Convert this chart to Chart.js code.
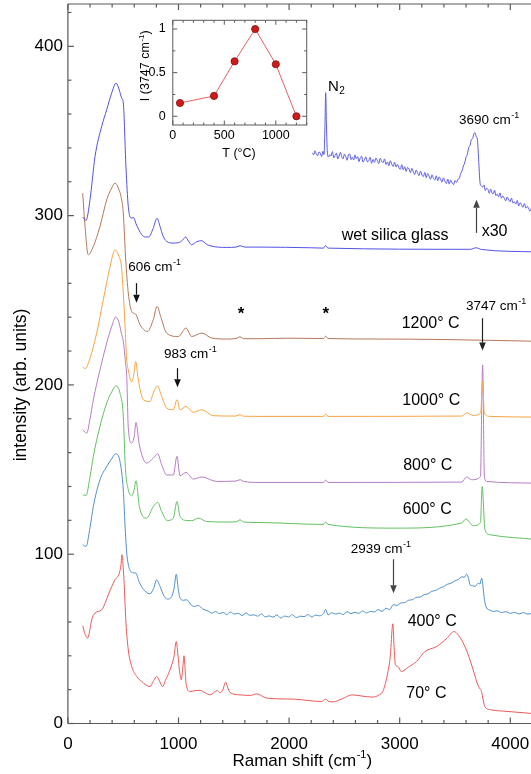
<!DOCTYPE html>
<html>
<head>
<meta charset="utf-8">
<title>Raman spectra of heated silica</title>
<script src="https://cdn.jsdelivr.net/npm/chart.js@4.4.1/dist/chart.umd.min.js"></script>
<style>
  html, body { margin: 0; padding: 0; background: #fff; overflow: hidden; }
  #wrap { position: relative; width: 531px; height: 774px; overflow: hidden; }
  #mainChart { position: absolute; left: 0; top: 0; }
  #insetChart { position: absolute; left: 130px; top: 10px; }
</style>
</head>
<body>
<div id="wrap">
  <canvas id="mainChart" width="536" height="774"></canvas>
  <canvas id="insetChart" width="182" height="160"></canvas>
</div>
<script>
// --- Data: [Raman shift (cm-1), intensity (arb. units)] ---
const wetGlass = [
  [134, 299.1], [164, 297.2], [200, 309.4], [245, 334.8], [306, 352.8], [351, 362.6], [396, 372.4],
  [435, 378.3], [462, 374.8], [486, 369.5], [501, 366.5], [525, 328.8], [546, 305.4], [571, 298.6],
  [595, 298.8], [616, 295.2], [667, 288.8], [700, 287.4], [730, 287.4], [770, 292.3], [806, 298.4],
  [833, 293.6], [860, 288], [893, 284.8], [950, 283.8], [998, 284], [1035, 285.4], [1065, 287.4],
  [1090, 285], [1119, 282.8], [1165, 284.6], [1210, 285.2], [1250, 283.2], [1285, 282.2], [1436, 281.2],
  [1520, 281.4], [1556, 282.2], [1600, 281.4], [1737, 281.4], [2200, 281], [2310, 280.8], [2331, 282.3],
  [2352, 280.8], [3640, 280.1], [3690, 281], [3740, 280], [4220, 278.6],
]

const wetGlassX30 = [
  [2210, 337.1], [2222, 335.9], [2234, 338.3], [2246, 336.2], [2258, 335.4], [2270, 337.6], [2282, 336.9],
  [2294, 334.9], [2306, 338], [2316, 336.1], [2324, 352], [2331, 372.6], [2338, 353], [2346, 337.5],
  [2356, 334.6], [2368, 336], [2380, 335.2], [2392, 337.8], [2404, 334.1], [2416, 335.6], [2428, 336.9],
  [2440, 333.5], [2452, 335.2], [2464, 337.4], [2476, 334.8], [2488, 333.6], [2500, 336.3], [2512, 335],
  [2524, 332.7], [2536, 335.8], [2548, 336.4], [2560, 333.1], [2572, 334.5], [2584, 332.9], [2596, 335.9],
  [2608, 333.6], [2620, 334.8], [2632, 331.9], [2644, 334.2], [2656, 335.1], [2668, 331.6], [2681, 333],
  [2694, 334.7], [2707, 331.8], [2720, 332.4], [2733, 334.5], [2746, 330.9], [2759, 333.2], [2772, 331.5],
  [2785, 334], [2798, 332.6], [2811, 330.7], [2824, 333.9], [2837, 332], [2850, 331.3], [2863, 333.5],
  [2876, 330.2], [2889, 331.7], [2902, 329.5], [2915, 332.4], [2928, 330.5], [2941, 329], [2954, 331.6],
  [2967, 328.7], [2980, 330.4], [2993, 328.2], [3006, 327.4], [3019, 330.1], [3032, 327], [3045, 328.9],
  [3058, 326.1], [3071, 328.4], [3084, 327.6], [3097, 325.4], [3110, 327.9], [3123, 325.9], [3136, 324.3],
  [3149, 326.8], [3162, 325.2], [3175, 323.6], [3188, 326.3], [3201, 324], [3214, 323.1], [3227, 325.5],
  [3240, 322.4], [3253, 324.9], [3266, 323.3], [3279, 321.5], [3292, 324.1], [3305, 322], [3318, 321.1],
  [3331, 323.5], [3344, 320.6], [3357, 322.9], [3370, 321.4], [3383, 319.8], [3396, 322.3], [3409, 320.2],
  [3422, 319], [3435, 321.6], [3448, 318.6], [3461, 320.9], [3474, 319.4], [3487, 318.3], [3500, 320.7],
  [3513, 319.6], [3526, 321.4], [3540, 322.1], [3552, 325], [3564, 326.4], [3576, 329.4], [3588, 331.1],
  [3600, 334.5], [3612, 336.3], [3624, 340.1], [3636, 341.5], [3648, 344.9], [3660, 345.6], [3672, 348.5],
  [3681, 349], [3692, 346.6], [3702, 345.2], [3714, 333], [3726, 319.8], [3738, 317.4], [3750, 316.9],
  [3762, 318.1], [3774, 314.8], [3786, 316.2], [3798, 315.4], [3810, 313.2], [3822, 315.7], [3834, 313.5],
  [3846, 312.9], [3858, 315], [3870, 311.8], [3882, 312.7], [3894, 311.2], [3907, 313.4], [3920, 310.3],
  [3933, 311.6], [3946, 310.2], [3959, 308.7], [3972, 311], [3985, 309.4], [3998, 308.2], [4011, 310.3],
  [4024, 307.5], [4037, 308.1], [4050, 306.8], [4063, 308.9], [4076, 305.7], [4089, 307.6], [4102, 306.3],
  [4115, 304.9], [4128, 307.1], [4141, 304.4], [4154, 305.5], [4167, 303.9], [4180, 302.6], [4193, 304.8],
  [4206, 302], [4219, 302.9],
]

const heated1200 = [
  [134, 313.3], [155, 293.6], [184, 276.8], [230, 281.8], [290, 293.6], [351, 309.4], [396, 316.3],
  [426, 319.2], [456, 316.3], [486, 309.4], [501, 301.5], [523, 273.8], [546, 254.3], [577, 243.4],
  [600, 242.2], [616, 241.5], [652, 235.6], [718, 231.6], [772, 238.5], [806, 246.4], [839, 240.4],
  [893, 230.6], [998, 228.6], [1068, 233.6], [1119, 228.6], [1210, 230.6], [1300, 227.7], [1436, 227.1],
  [1520, 227.4], [1556, 228.4], [1590, 227.3], [1737, 227.3], [2000, 227.6], [2310, 227.4], [2331, 228.8],
  [2352, 227.4], [2800, 227.1], [3400, 226.8], [4220, 225.8],
]

const heated1000 = [
  [134, 210.8], [155, 209.6], [200, 215.8], [260, 230.6], [320, 250.3], [381, 269.8], [426, 279.8],
  [456, 276.8], [486, 268.8], [501, 253.8], [516, 235.8], [532, 214.8], [546, 208.8], [577, 201.8],
  [595, 205.8], [613, 213.8], [637, 202.8], [682, 191.2], [742, 190.2], [772, 195.2], [808, 199.5],
  [848, 193.2], [893, 186.3], [953, 185.3], [986, 191.2], [1014, 185.3], [1068, 187.3], [1134, 183.8],
  [1210, 185.3], [1315, 181.8], [1520, 181.6], [1556, 182.4], [1590, 181.5], [1737, 181.4], [2310, 181.4],
  [2331, 182.8], [2352, 181.4], [3560, 181.6], [3606, 183.4], [3665, 182], [3732, 183.4], [3750, 202.1],
  [3765, 183.4], [3816, 181.4], [4220, 181],
]

const heated800 = [
  [134, 173.5], [170, 171.5], [200, 179.8], [230, 191.2], [290, 208.8], [351, 224.8], [396, 234.5],
  [432, 240.1], [462, 236.8], [486, 229.8], [501, 225.8], [520, 213.8], [532, 204.8], [546, 174.8],
  [577, 165.6], [600, 169.8], [616, 177.8], [646, 164.6], [712, 153.8], [772, 156.8], [812, 159.3],
  [848, 152.8], [893, 146.8], [953, 146.8], [986, 157.8], [1014, 146.3], [1068, 148.3], [1134, 144.4],
  [1210, 145.6], [1345, 143], [1520, 143.2], [1556, 144], [1590, 143], [1737, 142.4], [2310, 142.4],
  [2331, 143.8], [2352, 142.4], [3560, 142.6], [3606, 145.6], [3651, 144], [3730, 145.8], [3750, 211.8],
  [3766, 145.8], [3786, 143], [4220, 142],
]

const heated600 = [
  [134, 135.1], [164, 134.7], [200, 145.8], [230, 157.8], [290, 175.5], [351, 189.3], [400, 196.3],
  [435, 199.5], [471, 195.2], [501, 181.4], [519, 151.8], [546, 138.1], [577, 134.5], [598, 137.8],
  [616, 143.4], [646, 128.2], [712, 121.3], [772, 128.2], [812, 130.6], [848, 125.2], [899, 119.9],
  [953, 121.3], [986, 131.1], [1014, 122.3], [1074, 119.9], [1119, 119.8], [1179, 121.3], [1255, 119.3],
  [1436, 119], [1520, 119.1], [1556, 120.3], [1590, 119], [1737, 118.7], [2310, 117.6], [2331, 119],
  [2352, 117.6], [2973, 115.4], [3561, 118.4], [3599, 120.8], [3665, 116.8], [3730, 118.8], [3746, 140],
  [3771, 114.4], [3816, 111.5], [4220, 108.8],
]

const heated400 = [
  [134, 105.6], [164, 104.6], [200, 115.8], [230, 128.2], [290, 144], [351, 151.8], [400, 156.8],
  [432, 159.3], [471, 154.8], [501, 137.8], [516, 117.8], [532, 100.7], [550, 92.8], [568, 89.8],
  [590, 89], [616, 88.8], [640, 84.3], [667, 80.8], [705, 77.8], [742, 76.6], [775, 79.8], [803, 84.9],
  [833, 80.9], [865, 75.8], [899, 73.5], [939, 75], [960, 79.8], [980, 88.2], [997, 79.8], [1014, 74.1],
  [1045, 72.8], [1074, 73.1], [1100, 71.3], [1119, 69.7], [1150, 69.2], [1179, 69.7], [1220, 67.6],
  [1269, 66.4], [1300, 65.2], [1335, 66.1], [1370, 64.9], [1405, 65.6], [1436, 64.3], [1470, 65.8],
  [1505, 64.6], [1540, 65.1], [1575, 63.8], [1610, 65.3], [1645, 63.9], [1680, 64.2], [1715, 63.4],
  [1750, 64.7], [1785, 62.9], [1820, 63.6], [1855, 62.8], [1890, 64.1], [1925, 62.3], [1960, 63.5],
  [1995, 62.9], [2030, 64.3], [2065, 62.5], [2100, 63.4], [2135, 63.1], [2170, 64.4], [2205, 62.9],
  [2240, 64], [2275, 63.6], [2310, 64.9], [2331, 67.4], [2352, 64.1], [2385, 65.4], [2420, 64.6],
  [2455, 65.2], [2490, 64.3], [2525, 66.1], [2560, 64.9], [2595, 65.7], [2630, 65.1], [2665, 66.5],
  [2700, 65.3], [2735, 66.2], [2770, 65.9], [2805, 67.3], [2840, 66.2], [2875, 68.1], [2910, 67.3],
  [2942, 70.2], [2975, 69.7], [3010, 71.2], [3045, 71.4], [3080, 72.8], [3115, 73.1], [3150, 74.5],
  [3185, 74.7], [3220, 76.1], [3255, 76.6], [3290, 78.1], [3325, 78.6], [3360, 79.9], [3395, 80.8],
  [3430, 82.2], [3465, 82.9], [3500, 84.3], [3530, 85], [3561, 86.6], [3585, 86.4], [3606, 88.2],
  [3622, 85.8], [3636, 81.9], [3660, 81.4], [3681, 80.9], [3697, 82.2], [3711, 82.9], [3726, 82.4],
  [3741, 85.8], [3749, 83.8], [3756, 79], [3770, 71.8], [3787, 68.2], [3815, 67], [3846, 66.2],
  [3880, 66.6], [3920, 65.5], [3960, 66.1], [4000, 65.1], [4040, 65.6], [4080, 64.7], [4120, 65.5],
  [4160, 64.6], [4200, 65.2], [4230, 64.6],
]

const heated70 = [
  [134, 57.7], [155, 52.8], [179, 50.4], [200, 55.8], [215, 61.2], [245, 65.2], [306, 67.2], [335, 70.8],
  [365, 76], [426, 84.9], [465, 88.8], [480, 93.8], [489, 99.7], [497, 94.8], [507, 84.9], [516, 71.8],
  [525, 59.3], [546, 43.5], [577, 33.7], [622, 27.8], [667, 24.8], [742, 21.8], [775, 25.3], [803, 27.8],
  [830, 24.8], [857, 21.8], [880, 25.3], [899, 27.8], [939, 34.7], [960, 39.8], [980, 48.4], [993, 41.8],
  [1005, 33.7], [1025, 25.8], [1040, 33.8], [1050, 40], [1060, 31.8], [1068, 23.8], [1104, 18.9],
  [1150, 19.4], [1194, 19.6], [1240, 18.2], [1285, 16.9], [1351, 19.5], [1375, 18.3], [1400, 19.8],
  [1427, 24.4], [1445, 21.3], [1466, 18.3], [1556, 16.9], [1650, 16.6], [1707, 17.5], [1797, 15],
  [2038, 14.4], [2293, 13], [2330, 14.4], [2360, 13], [2400, 12.8], [2480, 14.6], [2570, 16.9],
  [2660, 16.2], [2753, 15.6], [2814, 16.9], [2850, 19.3], [2891, 29.7], [2915, 39.8], [2938, 58.9],
  [2950, 44.8], [2961, 34.7], [2984, 33.7], [3014, 30.7], [3080, 33.4], [3152, 36.6], [3228, 42.5],
  [3335, 45.5], [3428, 50.4], [3489, 54.3], [3550, 50.4], [3596, 44.5], [3640, 36.8], [3673, 29.7],
  [3710, 22.3], [3728, 20.3], [3740, 18.9], [3755, 13.8], [3770, 10], [3826, 8.1], [3979, 7.1],
  [4163, 6.1], [4220, 5.8],
]

// inset: intensity of the 3747 cm-1 band against heating temperature
const insetTemp = [70, 400, 600, 800, 1000, 1200]
const insetIntensity = [0.152, 0.233, 0.63, 1.0, 0.596, 0.0]

// tick labels
const xTickLabels = [0, 1000, 2000, 3000, 4000]
const yTickLabels = [0, 100, 200, 300, 400]
const insetXLabels = [0, 500, 1000]
const insetYLabels = [0, 0.5, 1]

// --- Text and arrow annotations (anchored in data units) ---
const annotations = [
  { text: 'N', sub: '2', x: 2352, y: 376.3, size: 15 },
  { text: '3690 cm', sup: '-1', x: 3536, y: 356.2, size: 13.5 },
  { text: 'wet silica glass', x: 2476, y: 288, size: 16 },
  { text: 'x30', x: 3741, y: 290.6, size: 16 },
  { text: '606 cm', sup: '-1', x: 546, y: 269.5, size: 13.5 },
  { text: '3747 cm', sup: '-1', x: 3600, y: 246.3, size: 13.5 },
  { text: '1200° C', x: 3018, y: 236.5, size: 16 },
  { text: '983 cm', sup: '-1', x: 869, y: 218.3, size: 13.5 },
  { text: '1000° C', x: 3023, y: 190.7, size: 16 },
  { text: '800° C', x: 3032, y: 152.1, size: 16 },
  { text: '600° C', x: 3027, y: 126.6, size: 16 },
  { text: '2939 cm', sup: '-1', x: 2557, y: 102.9, size: 13.5 },
  { text: '400° C', x: 3072, y: 60.1, size: 16 },
  { text: '70° C', x: 3060, y: 17.8, size: 16 },
]
const stars = [1565, 2331]
const arrows = [
  { x: 616, from: 260.1, to: 248.6, color: '#111' },
  { x: 984, from: 209.9, to: 198.6, color: '#111' },
  { x: 3747, from: 239.4, to: 220.3, color: '#222' },
  { x: 2937, from: 97, to: 76.9, color: '#444' },
  { x: 3690, from: 289.8, to: 309.3, color: '#444' },
]

const fontFamily = "'Liberation Sans', Arial, Helvetica, sans-serif"
const frameColor = '#5a5a5a'
Chart.defaults.font.family = fontFamily
Chart.defaults.color = '#000'

// --- Helpers ---
function drawRich(ctx, parts, x, y, size, align) {
  const small = Math.round(size * 0.65)
  const fontOf = (p) => `${p.sup || p.sub ? small : size}px ${fontFamily}`
  const widths = parts.map((p) => {
    ctx.font = fontOf(p)
    return ctx.measureText(p.t).width
  })
  const total = widths.reduce((a, b) => a + b, 0)
  let cx = align === 'center' ? x - total / 2 : x
  ctx.textAlign = 'left'
  ctx.textBaseline = 'middle'
  parts.forEach((p, i) => {
    ctx.font = fontOf(p)
    const dy = p.sup ? -size * 0.36 : p.sub ? size * 0.32 : 0
    ctx.fillText(p.t, cx, y + dy)
    cx += widths[i] + (p.sup || p.sub ? 0 : 0.5)
  })
}

function drawArrow(ctx, x, y0, y1, color) {
  const dir = Math.sign(y1 - y0)
  const head = 8
  const half = 3.3
  x = Math.round(x) + 0.5
  ctx.strokeStyle = color
  ctx.fillStyle = color
  ctx.lineWidth = 1.2
  ctx.beginPath()
  ctx.moveTo(x, y0)
  ctx.lineTo(x, y1 - dir * head)
  ctx.stroke()
  ctx.beginPath()
  ctx.moveTo(x, y1)
  ctx.lineTo(x - half, y1 - dir * head)
  ctx.lineTo(x + half, y1 - dir * head)
  ctx.closePath()
  ctx.fill()
}

function line(ctx, x0, y0, x1, y1) {
  ctx.beginPath()
  ctx.moveTo(x0, y0)
  ctx.lineTo(x1, y1)
  ctx.stroke()
}

function series(points, color) {
  return {
    data: points.map(([x, y]) => ({ x, y })),
    borderColor: color,
    borderWidth: 1,
    pointRadius: 0,
    fill: false,
    cubicInterpolationMode: 'monotone',
  }
}

// fixed axis sizes so the plot area lands where the figure has it
function fixWidth(w) {
  return (s) => {
    s.width = w
    s.paddingTop = 0
    s.paddingBottom = 0
  }
}
function fixHeight(h) {
  return (s) => {
    s.height = h
    s.paddingLeft = 0
    s.paddingRight = 0
  }
}

// --- Main chart decorations: frame, inward ticks, labels ---
const mainDecor = {
  id: 'mainDecor',
  afterDraw(chart) {
    const { ctx, chartArea: a, scales } = chart
    const xs = scales.x
    const ys = scales.y
    ctx.save()
    ctx.strokeStyle = frameColor
    ctx.lineWidth = 1.2
    line(ctx, a.left, a.top, a.left, a.bottom)
    line(ctx, a.left, a.bottom, a.right + 4, a.bottom)
    line(ctx, a.left, a.top, a.right + 4, a.top)
    xs.ticks.forEach((t) => {
      const px = xs.getPixelForValue(t.value)
      const len = xTickLabels.includes(t.value) ? 6 : 3.5
      line(ctx, px, a.bottom, px, a.bottom - len)
      line(ctx, px, a.top, px, a.top + len)
    })
    ys.ticks.forEach((t) => {
      const py = ys.getPixelForValue(t.value)
      const len = yTickLabels.includes(t.value) ? 6 : 3.5
      line(ctx, a.left, py, a.left + len, py)
    })

    ctx.fillStyle = '#000'
    annotations.forEach((n) => {
      const parts = [{ t: n.text }]
      if (n.sup) parts.push({ t: n.sup, sup: true })
      if (n.sub) parts.push({ t: n.sub, sub: true })
      drawRich(ctx, parts, xs.getPixelForValue(n.x), ys.getPixelForValue(n.y), n.size, 'left')
    })
    ctx.font = `bold 17px ${fontFamily}`
    ctx.textAlign = 'center'
    ctx.textBaseline = 'middle'
    stars.forEach((sx) => {
      ctx.fillText('*', xs.getPixelForValue(sx), ys.getPixelForValue(241.5))
    })
    arrows.forEach((r) => {
      drawArrow(ctx, xs.getPixelForValue(r.x), ys.getPixelForValue(r.from), ys.getPixelForValue(r.to), r.color)
    })

    // axis titles
    ctx.fillStyle = '#000'
    drawRich(ctx, [{ t: 'Raman shift (cm' }, { t: '-1', sup: true }, { t: ')' }], 302, 761.5, 17, 'center')
    ctx.save()
    ctx.translate(21.5, 385)
    ctx.rotate(-Math.PI / 2)
    drawRich(ctx, [{ t: 'intensity (arb. units)' }], 0, 0, 17.5, 'center')
    ctx.restore()
    ctx.restore()
  },
}

// --- Inset decorations: closed box with inward ticks on all sides ---
const insetDecor = {
  id: 'insetDecor',
  afterDraw(chart) {
    const { ctx, chartArea: a, scales } = chart
    const xs = scales.x
    const ys = scales.y
    ctx.save()
    ctx.strokeStyle = frameColor
    ctx.lineWidth = 1
    ctx.strokeRect(a.left, a.top, a.right - a.left, a.bottom - a.top)
    xs.ticks.forEach((t) => {
      const px = xs.getPixelForValue(t.value)
      const len = insetXLabels.includes(t.value) ? 4.5 : 2.5
      line(ctx, px, a.bottom, px, a.bottom - len)
      line(ctx, px, a.top, px, a.top + len)
    })
    ys.ticks.forEach((t) => {
      const py = ys.getPixelForValue(t.value)
      const len = insetYLabels.includes(t.value) ? 4.5 : 2.5
      line(ctx, a.left, py, a.left + len, py)
      line(ctx, a.right, py, a.right - len, py)
    })
    ctx.fillStyle = '#000'
    drawRich(ctx, [{ t: 'T (°C)' }], 109, 144, 12.5, 'center')
    ctx.save()
    ctx.translate(16, 56)
    ctx.rotate(-Math.PI / 2)
    drawRich(ctx, [{ t: 'I (3747 cm' }, { t: '-1', sup: true }, { t: ')' }], 0, 0, 12.5, 'center')
    ctx.restore()
    ctx.restore()
  },
}

// --- Main spectra chart ---
new Chart(document.getElementById('mainChart'), {
  type: 'line',
  data: {
    datasets: [
      series(wetGlass, '#5252e8'),
      series(wetGlassX30, '#5a5aea'),
      series(heated1200, '#b4785a'),
      series(heated1000, '#f7a444'),
      series(heated800, '#b67cc6'),
      series(heated600, '#62c062'),
      series(heated400, '#4f8fcc'),
      series(heated70, '#ec5a5a'),
    ],
  },
  options: {
    responsive: false,
    animation: false,
    events: [],
    layout: { padding: { top: 4, right: 3.6, left: 0, bottom: 0 } },
    plugins: { legend: { display: false }, tooltip: { enabled: false } },
    scales: {
      x: {
        type: 'linear',
        min: 0,
        max: 4200,
        grid: { display: false, drawTicks: false },
        border: { display: false },
        ticks: {
          stepSize: 200,
          autoSkip: false,
          maxRotation: 0,
          includeBounds: false,
          padding: 11,
          color: '#000',
          font: { size: 17 },
          callback: (v) => (xTickLabels.includes(v) ? String(v) : ''),
        },
        afterFit: fixHeight(50.5),
      },
      y: {
        type: 'linear',
        min: 0,
        max: 425,
        grid: { display: false, drawTicks: false },
        border: { display: false },
        ticks: {
          stepSize: 20,
          autoSkip: false,
          includeBounds: false,
          padding: 5,
          color: '#000',
          font: { size: 17 },
          callback: (v) => (yTickLabels.includes(v) ? String(v) : ''),
        },
        afterFit: fixWidth(67.9),
      },
    },
  },
  plugins: [mainDecor],
})

// --- Inset chart ---
new Chart(document.getElementById('insetChart'), {
  type: 'line',
  data: {
    datasets: [{
      data: insetTemp.map((t, i) => ({ x: t, y: insetIntensity[i] })),
      borderColor: '#e86060',
      borderWidth: 1,
      pointRadius: 3.6,
      pointBackgroundColor: '#d01a1a',
      pointBorderColor: '#801010',
      pointBorderWidth: 0.8,
      fill: false,
    }],
  },
  options: {
    responsive: false,
    animation: false,
    events: [],
    layout: { padding: { top: 10.3, right: 5.3, left: 0, bottom: 0 } },
    plugins: { legend: { display: false }, tooltip: { enabled: false } },
    scales: {
      x: {
        type: 'linear',
        min: 0,
        max: 1300,
        grid: { display: false, drawTicks: false },
        border: { display: false },
        ticks: {
          stepSize: 100,
          autoSkip: false,
          maxRotation: 0,
          includeBounds: false,
          padding: 3.5,
          color: '#000',
          font: { size: 12.5 },
          callback: (v) => (insetXLabels.includes(v) ? String(v) : ''),
        },
        afterFit: fixHeight(45),
      },
      y: {
        type: 'linear',
        min: -0.1,
        max: 1.1,
        grid: { display: false, drawTicks: false },
        border: { display: false },
        ticks: {
          stepSize: 0.25,
          autoSkip: false,
          includeBounds: false,
          padding: 7,
          color: '#000',
          font: { size: 12.5 },
          callback: (v) => (insetYLabels.includes(v) ? String(v) : ''),
        },
        afterFit: fixWidth(42.8),
      },
    },
  },
  plugins: [insetDecor],
})
</script>
</body>
</html>
